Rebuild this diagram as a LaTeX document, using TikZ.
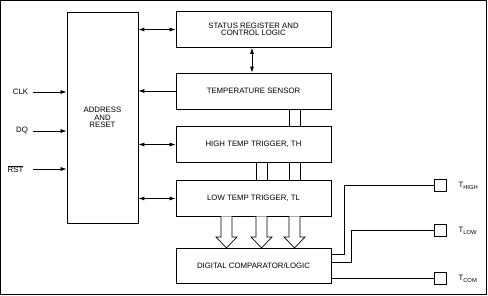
\documentclass[tikz,border=0pt]{standalone}
\usepackage{fontspec}
\setmainfont{Liberation Sans}
\usetikzlibrary{arrows.meta,calc}
\begin{document}
\begin{tikzpicture}[x=1pt,y=-1pt,
  every node/.style={font=\fontsize{7.8}{7.5}\selectfont},
  blk/.style={draw,line width=0.8pt,minimum width=155pt,minimum height=36pt,inner sep=0pt,align=center},
  conn/.style={line width=0.7pt},
  tip/.style={-{Latex[length=6pt,width=4pt]}},
  dtip/.style={{Latex[length=6pt,width=4pt]}-{Latex[length=6pt,width=4pt]}},
  pad/.style={draw,line width=0.7pt,minimum width=12pt,minimum height=12pt,inner sep=0pt},
  hollow/.style={draw,line width=0.7pt,fill=white,line join=miter}]
\useasboundingbox (0,0) rectangle (488,296);
\draw[line width=1.2pt] (0.8,0.8) rectangle (486.6,294.6);
% main blocks
\node[blk,minimum width=71pt,minimum height=211pt] (addr) at (102.5,117.5) {ADDRESS\\AND\\RESET};
\node[blk] (stat) at (253.5,29.5) {STATUS REGISTER AND\\CONTROL LOGIC};
\node[blk] (temp) at (253.5,91) {TEMPERATURE SENSOR};
\node[blk] (high) at (253.5,144.5) {HIGH TEMP TRIGGER, TH};
\node[blk] (low) at (253.5,198.5) {LOW TEMP TRIGGER, TL};
\node[blk,minimum height=35pt] (comp) at (253.5,265.5) {DIGITAL COMPARATOR/LOGIC};
% inputs
\coordinate (iclk) at (33,92);
\coordinate (idq) at (33,131);
\coordinate (irst) at (33,169);
\node (clk) at (20.5,92) {CLK};
\node (dq) at (22,131) {DQ};
\node (rst) at (15.5,169) {$\overline{\mbox{RST}}$};
\draw[conn,tip] (iclk) -- (iclk -| addr.west);
\draw[conn,tip] (idq) -- (idq -| addr.west);
\draw[conn,tip] (irst) -- (irst -| addr.west);
% address <-> blocks
\draw[conn,dtip] (addr.east |- stat.west) -- (stat.west);
\draw[conn,tip] (temp.west) -- (addr.east |- temp.west);
\draw[conn,dtip] (addr.east |- high.west) -- (high.west);
\draw[conn,dtip] (addr.east |- low.west) -- (low.west);
\draw[conn,dtip] (stat.south -| 252,0) -- (temp.north -| 252,0);
% bus lines
\coordinate (b1) at (256,0);
\coordinate (b2) at (267,0);
\coordinate (b3) at (289,0);
\coordinate (b4) at (300,0);
\draw[conn] (b3 |- temp.south) -- (b3 |- high.north);
\draw[conn] (b4 |- temp.south) -- (b4 |- high.north);
\draw[conn] (b1 |- high.south) -- (b1 |- low.north);
\draw[conn] (b2 |- high.south) -- (b2 |- low.north);
\draw[conn] (b3 |- high.south) -- (b3 |- low.north);
\draw[conn] (b4 |- high.south) -- (b4 |- low.north);
% hollow arrows
\foreach \c in {226.5,261.5,294.5}{
  \draw[hollow] (\c-5.5,216.5) -- (\c-5.5,237) -- (\c-10.5,237) -- (\c,248) -- (\c+10.5,237) -- (\c+5.5,237) -- (\c+5.5,216.5);
}
% outputs
\node[pad] (ph) at (440,185) {};
\node[pad] (pl) at (440,230) {};
\node[pad] (pc) at (440,278) {};
\node[anchor=west] at (455,186) {T\raisebox{-0.5ex}{\fontsize{5.8}{6}\selectfont HIGH}};
\node[anchor=west] at (455,231) {T\raisebox{-0.5ex}{\fontsize{5.8}{6}\selectfont LOW}};
\node[anchor=west] at (455,279) {T\raisebox{-0.5ex}{\fontsize{5.8}{6}\selectfont COM}};
\draw[conn] (comp.east |- 0,254) -- (344,254) -- (344,185) -- (ph.west);
\draw[conn] (comp.east |- 0,262) -- (351,262) -- (351,230) -- (pl.west);
\draw[conn] (comp.east |- pc.west) -- (pc.west);
\end{tikzpicture}
\end{document}
